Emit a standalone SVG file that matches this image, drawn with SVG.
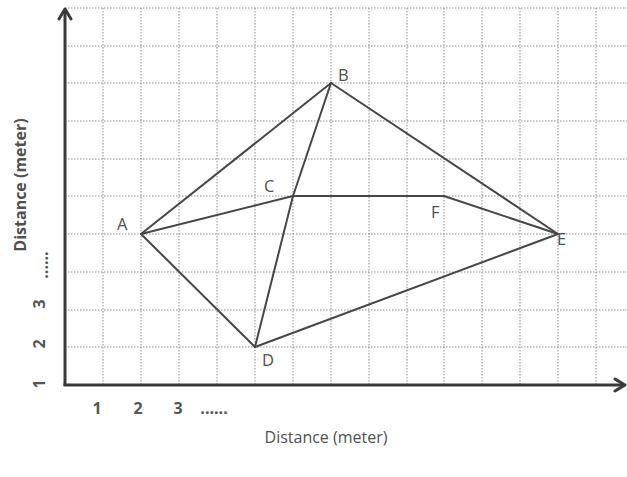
<svg xmlns="http://www.w3.org/2000/svg" width="627" height="477" viewBox="0 0 627 477">
<style>
.grid line{stroke:#8f8f8f;stroke-width:1;stroke-dasharray:1.5 1.5}
.edge{stroke:#474747;stroke-width:2;fill:none;stroke-linecap:round}
.axis{stroke:#3a3a3a;stroke-width:3;fill:none}
.head{stroke:#3a3a3a;stroke-width:3;fill:none;stroke-linecap:round;stroke-linejoin:round}
.lbl{font-family:"Open Sans","Liberation Sans",sans-serif;font-size:16.5px;fill:#505050}
.ax{font-family:"Open Sans","Liberation Sans",sans-serif;font-size:16px;fill:#505050}
.vax{font-family:"Open Sans","Liberation Sans",sans-serif;font-size:16px;font-weight:bold;fill:#505050}
.tick{font-family:"Open Sans","Liberation Sans",sans-serif;font-size:16px;font-weight:bold;fill:#555}
</style>
<rect width="627" height="477" fill="#fff"/>
<g class="grid">
<line x1="103" y1="8" x2="103" y2="385"/>
<line x1="141" y1="8" x2="141" y2="385"/>
<line x1="179" y1="8" x2="179" y2="385"/>
<line x1="217" y1="8" x2="217" y2="385"/>
<line x1="255" y1="8" x2="255" y2="385"/>
<line x1="293" y1="8" x2="293" y2="385"/>
<line x1="331" y1="8" x2="331" y2="385"/>
<line x1="369" y1="8" x2="369" y2="385"/>
<line x1="407" y1="8" x2="407" y2="385"/>
<line x1="444" y1="8" x2="444" y2="385"/>
<line x1="482" y1="8" x2="482" y2="385"/>
<line x1="520" y1="8" x2="520" y2="385"/>
<line x1="558" y1="8" x2="558" y2="385"/>
<line x1="596" y1="8" x2="596" y2="385"/>
<line x1="65" y1="8" x2="627" y2="8"/>
<line x1="65" y1="46" x2="627" y2="46"/>
<line x1="65" y1="83" x2="627" y2="83"/>
<line x1="65" y1="121" x2="627" y2="121"/>
<line x1="65" y1="159" x2="627" y2="159"/>
<line x1="65" y1="196" x2="627" y2="196"/>
<line x1="65" y1="234" x2="627" y2="234"/>
<line x1="65" y1="272" x2="627" y2="272"/>
<line x1="65" y1="310" x2="627" y2="310"/>
<line x1="65" y1="347" x2="627" y2="347"/>
</g>
<g id="axes">
<line class="axis" x1="65" y1="386" x2="65" y2="9"/>
<path class="head" d="M59,19 L65,9 L71,19"/>
<line class="axis" x1="63.5" y1="385" x2="624" y2="385"/>
<path class="head" d="M615,379 L625,385 L615,391"/>
</g>
<g id="connectors">
<line class="edge" x1="141" y1="234" x2="331" y2="83"/>
<line class="edge" x1="141" y1="234" x2="293" y2="196"/>
<line class="edge" x1="141" y1="234" x2="255" y2="347"/>
<line class="edge" x1="293" y1="196" x2="331" y2="83"/>
<line class="edge" x1="293" y1="196" x2="255" y2="347"/>
<line class="edge" x1="293" y1="196" x2="444" y2="196"/>
<line class="edge" x1="444" y1="196" x2="558" y2="234"/>
<line class="edge" x1="331" y1="83" x2="558" y2="234"/>
<line class="edge" x1="255" y1="347" x2="558" y2="234"/>
</g>
<g id="node-A"><text class="lbl" x="117" y="230">A</text></g>
<g id="node-B"><text class="lbl" x="338" y="81">B</text></g>
<g id="node-C"><text class="lbl" x="264" y="192">C</text></g>
<g id="node-D"><text class="lbl" x="262" y="366">D</text></g>
<g id="node-E"><text class="lbl" x="557" y="245">E</text></g>
<g id="node-F"><text class="lbl" x="431" y="218">F</text></g>
<g id="labels">
<text class="ax" x="326" y="443" text-anchor="middle">Distance (meter)</text>
<text class="vax" transform="translate(26,185) rotate(-90)" text-anchor="middle">Distance (meter)</text>
<text class="tick" x="97" y="414" text-anchor="middle">1</text>
<text class="tick" x="138" y="414" text-anchor="middle">2</text>
<text class="tick" x="178" y="414" text-anchor="middle">3</text>
<text class="tick" x="214" y="414" text-anchor="middle">......</text>
<text class="tick" transform="translate(45,384) rotate(-90)" text-anchor="middle">1</text>
<text class="tick" transform="translate(45,344) rotate(-90)" text-anchor="middle">2</text>
<text class="tick" transform="translate(45,304) rotate(-90)" text-anchor="middle">3</text>
<text class="tick" transform="translate(48,265) rotate(-90)" text-anchor="middle">......</text>
</g>
</svg>
